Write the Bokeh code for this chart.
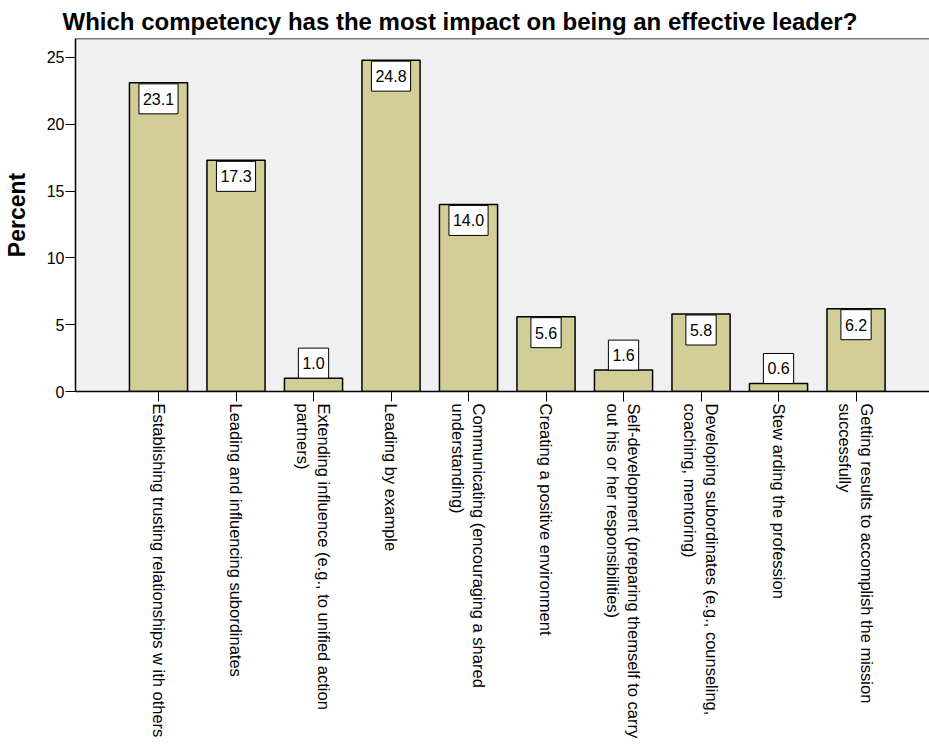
import math
from bokeh.plotting import figure
from bokeh.models import Range1d, FixedTicker, Span, ColumnDataSource
from bokeh.core.properties import value
from bokeh.embed import file_html
from bokeh.resources import INLINE

# ---- data ----
categories = [
    "Establishing trusting relationships w ith others",
    "Leading and influencing subordinates",
    "Extending influence (e.g., to unified action\npartners)",
    "Leading by example",
    "Communicating (encouraging a shared\nunderstanding)",
    "Creating a positive environment",
    "Self-development (preparing themself to carry\nout his or her responsibilities)",
    "Developing subordinates (e.g., counseling,\ncoaching, mentoring)",
    "Stew arding the profession",
    "Getting results to accomplish the mission\nsuccessfully",
]
percent = [23.1, 17.3, 1.0, 24.8, 14.0, 5.6, 1.6, 5.8, 0.6, 6.2]
y_ticks = [0, 5, 10, 15, 20, 25]

FONT = "Liberation Sans"
BAR_COLOR = "#d3ce97"

xs = list(range(len(categories)))
y_top = 26.42
frame_h = 353
px_per_unit = frame_h / y_top
label_box_px = 28
threshold = label_box_px / px_per_unit

p = figure(
    frame_width=854, frame_height=frame_h,
    x_range=Range1d(-1.071, 9.948), y_range=Range1d(0, y_top),
    output_backend="svg", toolbar_location=None,
    min_border_left=75, min_border_right=0, min_border_top=38, min_border_bottom=0,
    title="Which competency has the most impact on being an effective leader?",
)
p.background_fill_color = "#f0f0f0"
p.border_fill_color = "white"
p.outline_line_color = None
p.grid.grid_line_color = None

p.title.text_font = FONT
p.title.text_font_size = "24px"
p.title.text_font_style = "bold"
p.title.text_color = "black"
p.title.align = "left"
p.title.offset = -13
p.title.standoff = 7

src = ColumnDataSource(dict(x=xs, top=percent))
p.vbar(x="x", top="top", width=0.75, source=src,
       fill_color=BAR_COLOR, line_color="black", line_width=1.5)

inside = [i for i, v in enumerate(percent) if v >= threshold]
outside = [i for i, v in enumerate(percent) if v < threshold]
for idx, anchor, yoff in ((inside, "top_center", 1), (outside, "bottom_center", 0)):
    s = ColumnDataSource(dict(x=[xs[i] for i in idx], y=[percent[i] for i in idx],
                              t=[f"{percent[i]:.1f}" for i in idx]))
    p.text(x="x", y="y", text="t", source=s, anchor=anchor, y_offset=yoff,
           text_font=value(FONT), text_font_size="16px", text_color="black",
           background_fill_color="white", border_line_color="black", border_line_width=1,
           padding=(4, 9))

p.add_layout(Span(location=y_top, dimension="width", line_color="black", line_width=1.5))

ya = p.yaxis[0]
ya.ticker = FixedTicker(ticks=y_ticks)
ya.minor_tick_line_color = None
ya.major_tick_in = 0
ya.major_tick_out = 10
ya.major_label_standoff = 1
ya.major_label_text_font = FONT
ya.major_label_text_font_size = "16px"
ya.major_label_text_color = "black"
ya.axis_line_color = "black"
ya.axis_line_width = 1.5
ya.axis_label = "Percent"
ya.axis_label_text_font = FONT
ya.axis_label_text_font_size = "23px"
ya.axis_label_text_font_style = "bold"
ya.axis_label_text_color = "black"
ya.axis_label_standoff = 14

xa = p.xaxis[0]
xa.ticker = FixedTicker(ticks=xs)
xa.major_label_overrides = {i: c for i, c in zip(xs, categories)}
xa.major_label_orientation = -math.pi / 2
xa.minor_tick_line_color = None
xa.major_tick_in = 0
xa.major_tick_out = 10
xa.major_label_standoff = 2
xa.major_label_text_font = FONT
xa.major_label_text_font_size = "16.5px"
xa.major_label_text_color = "black"
xa.axis_line_color = "black"
xa.axis_line_width = 1.5

open("out.html", "w").write(file_html(p, INLINE))
